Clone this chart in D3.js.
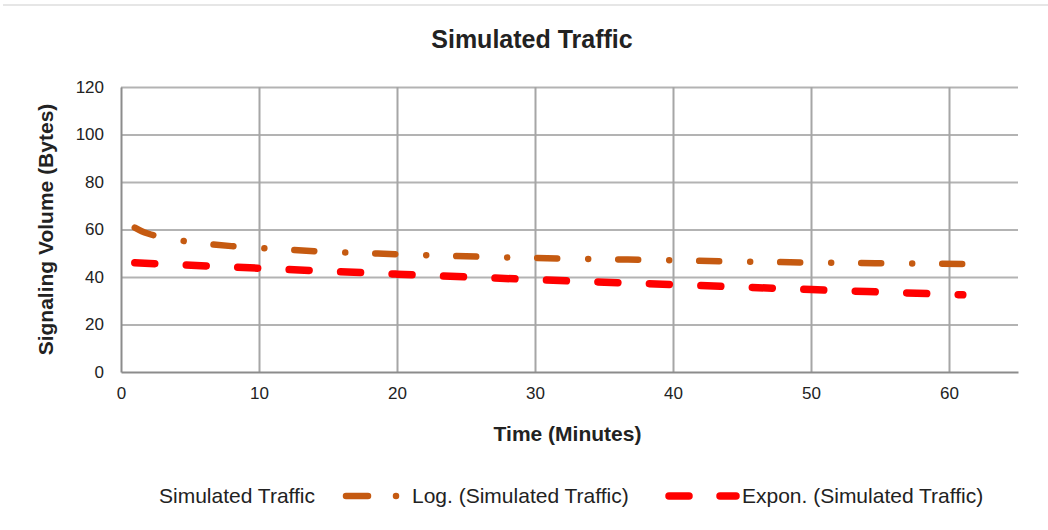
<!DOCTYPE html>
<html>
<head>
<meta charset="utf-8">
<script src="https://cdn.jsdelivr.net/npm/d3@7"></script>
<style>
  body { margin: 0; background: #fff; }
  svg text { font-family: "Liberation Sans", Arial, sans-serif; fill: #222; }
</style>
</head>
<body>
<div id="chart"></div>
<script>
// Values
const chartTitle = "Simulated Traffic";
const xTitle = "Time (Minutes)";
const yTitle = "Signaling Volume (Bytes)";
const seriesNames = ["Simulated Traffic", "Log. (Simulated Traffic)", "Expon. (Simulated Traffic)"];

const xTicks = [0, 10, 20, 30, 40, 50, 60];
const yTicks = [0, 20, 40, 60, 80, 100, 120];

// Log trend line (minutes, bytes)
const logTimes = [1, 1.5, 2, 3, 4, 5, 6, 8, 10, 12, 15, 20, 25, 30, 35, 40, 45, 50, 55, 61];
const logValues = [60.8, 59.3, 58.2, 56.7, 55.6, 54.8, 54.1, 53.0, 52.2, 51.5, 50.6, 49.6, 48.7, 48.0, 47.5, 47.0, 46.5, 46.1, 45.8, 45.5];

// Exponential trend line
const expTimes = [1, 10, 20, 30, 40, 50, 61];
const expValues = [46.0, 43.7, 41.2, 38.9, 36.8, 34.7, 32.5];

const config = {
  width: 1048,
  height: 530,
  margin: { top: 87, right: 30, bottom: 158, left: 121 }
};

const logColor = "#c55a11";
const expColor = "#ff0000";

const width = config.width - config.margin.left - config.margin.right;
const height = config.height - config.margin.top - config.margin.bottom;

const svg = d3.select("#chart").append("svg")
  .attr("width", config.width)
  .attr("height", config.height);

// thin frame line at the very top
svg.append("line")
  .attr("x1", 3).attr("x2", config.width)
  .attr("y1", 5).attr("y2", 5)
  .attr("stroke", "#e6e6e6")
  .attr("stroke-width", 2);

const chartArea = svg.append("g")
  .attr("transform", `translate(${config.margin.left},${config.margin.top})`);

// Scales
const xScale = d3.scaleLinear().domain([0, 65]).range([0, width]);
const yScale = d3.scaleLinear().domain([0, 120]).range([height, 0]);

// Gridlines
chartArea.append("g")
  .attr("class", "grid-y")
  .call(d3.axisLeft(yScale).tickValues(yTicks.filter(d => d > 0)).tickSize(-width).tickFormat(""))
  .call(g => g.select(".domain").remove())
  .call(g => g.selectAll("line").attr("stroke", "#b3b3b3").attr("stroke-width", 2));

chartArea.append("g")
  .attr("class", "grid-x")
  .attr("transform", `translate(0,${height})`)
  .call(d3.axisBottom(xScale).tickValues(xTicks.filter(d => d > 0)).tickSize(-height).tickFormat(""))
  .call(g => g.select(".domain").remove())
  .call(g => g.selectAll("line").attr("stroke", "#a6a6a6").attr("stroke-width", 2));

// Axes
const xAxisG = chartArea.append("g")
  .attr("class", "x-axis")
  .attr("transform", `translate(0,${height})`)
  .call(d3.axisBottom(xScale).tickValues(xTicks).tickSize(0).tickPadding(15));
xAxisG.select(".domain").attr("stroke", "#8c8c8c").attr("stroke-width", 2);
xAxisG.selectAll("text").attr("font-size", 17).attr("fill", "#222");

const yAxisG = chartArea.append("g")
  .attr("class", "y-axis")
  .call(d3.axisLeft(yScale).tickValues(yTicks).tickSize(0).tickPadding(17));
yAxisG.select(".domain").attr("stroke", "#8c8c8c").attr("stroke-width", 2);
yAxisG.selectAll("text").attr("font-size", 17).attr("fill", "#222");

// Trend lines
const line = d3.line()
  .x(d => xScale(d[0]))
  .y(d => yScale(d[1]))
  .curve(d3.curveMonotoneX);

const logData = logTimes.map((t, i) => [t, logValues[i]]);
const expData = expTimes.map((t, i) => [t, expValues[i]]);

chartArea.append("path")
  .datum(expData)
  .attr("d", line)
  .attr("fill", "none")
  .attr("stroke", expColor)
  .attr("stroke-width", 7.5)
  .attr("stroke-linecap", "round")
  .attr("stroke-dasharray", "20,31.5");

chartArea.append("path")
  .datum(logData)
  .attr("d", line)
  .attr("fill", "none")
  .attr("stroke", logColor)
  .attr("stroke-width", 6.5)
  .attr("stroke-linecap", "round")
  .attr("stroke-dasharray", "20,31,0.01,30");

// Titles
svg.append("text")
  .attr("x", 532)
  .attr("y", 48)
  .attr("text-anchor", "middle")
  .attr("font-size", 25)
  .attr("font-weight", "bold")
  .text(chartTitle);

svg.append("text")
  .attr("x", config.margin.left + width / 2 - 2)
  .attr("y", 441)
  .attr("text-anchor", "middle")
  .attr("font-size", 21)
  .attr("font-weight", "bold")
  .text(xTitle);

svg.append("text")
  .attr("transform", `translate(53,${config.margin.top + height / 2}) rotate(-90)`)
  .attr("text-anchor", "middle")
  .attr("font-size", 21)
  .attr("font-weight", "bold")
  .text(yTitle);

// Legend
const legend = svg.append("g").attr("class", "legend");
const legendY = 496;

legend.append("text")
  .attr("x", 159).attr("y", legendY + 7)
  .attr("font-size", 21).attr("fill", "#333")
  .text(seriesNames[0]);

legend.append("line")
  .attr("x1", 346).attr("x2", 397)
  .attr("y1", legendY).attr("y2", legendY)
  .attr("stroke", logColor).attr("stroke-width", 6.5)
  .attr("stroke-linecap", "round")
  .attr("stroke-dasharray", "22,28,0.01,100");

legend.append("text")
  .attr("x", 412).attr("y", legendY + 7)
  .attr("font-size", 21).attr("fill", "#333")
  .text(seriesNames[1]);

legend.append("line")
  .attr("x1", 669).attr("x2", 736)
  .attr("y1", legendY).attr("y2", legendY)
  .attr("stroke", expColor).attr("stroke-width", 7.5)
  .attr("stroke-linecap", "round")
  .attr("stroke-dasharray", "20,31");

legend.append("text")
  .attr("x", 742).attr("y", legendY + 7)
  .attr("font-size", 21).attr("fill", "#333")
  .text(seriesNames[2]);
</script>
</body>
</html>
